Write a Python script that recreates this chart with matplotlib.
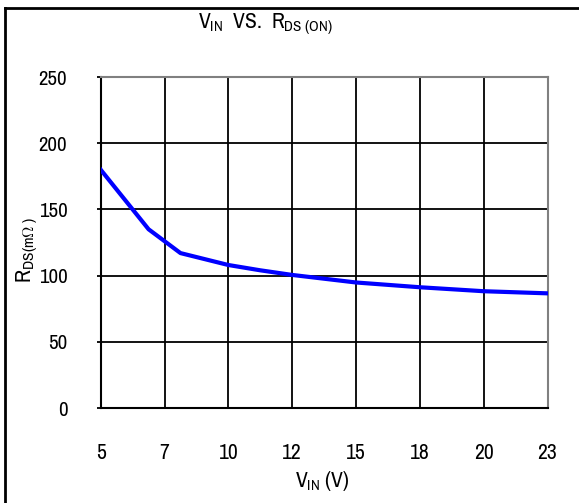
import numpy as np
import matplotlib
matplotlib.use('Agg')
import matplotlib.pyplot as plt
from matplotlib.lines import Line2D

plt.rcParams['font.family'] = ['Archivo Narrow', 'Roboto Condensed', 'DejaVu Sans']
plt.rcParams['mathtext.fontset'] = 'custom'
plt.rcParams['mathtext.rm'] = 'Archivo Narrow'
plt.rcParams['mathtext.it'] = 'Archivo Narrow'

# category axis: ticks are equally spaced
tick_vin = [5, 7, 10, 12, 15, 18, 20, 23]
# curve
vin = [5, 6.5, 7.75, 10, 11, 12, 15, 18, 20, 23]
rds = [180, 135, 117, 108, 104, 100.5, 94.8, 91.2, 88.2, 86.6]

tick_pos = np.arange(len(tick_vin))
xpos = np.interp(vin, tick_vin, tick_pos)

W, H = 579, 503
fig = plt.figure(figsize=(W / 100, H / 100), dpi=100)
ax = fig.add_axes([100.7 / W, 1 - 408 / H, 446.8 / W, 331 / H])

ax.plot(xpos, rds, color='#0000ff', linewidth=3, solid_joinstyle='round', zorder=3)

ax.set_xlim(0, len(tick_vin) - 1)
ax.set_ylim(0, 250)
ax.set_xticks(tick_pos)
ax.set_xticklabels([str(v) for v in tick_vin])
ax.set_yticks(np.arange(0, 251, 50))
ax.grid(True, color='black', linewidth=1.3)
ax.tick_params(axis='x', length=0, pad=25, labelsize=15.5)
ax.tick_params(axis='y', length=3, width=1.3, pad=21, labelsize=15)
for s in ['left', 'bottom']:
    ax.spines[s].set_color('black')
    ax.spines[s].set_linewidth(1.5)
for s in ['top', 'right']:
    ax.spines[s].set_color('#808080')
    ax.spines[s].set_linewidth(1.5)

fig.text(322 / W, 1 - 487 / H, r'V$_{\mathrm{IN}}$ (V)', ha='center', va='baseline', fontsize=15.5)
fig.text(40 / W, 1 - 250 / H, r'R$_{\mathrm{DS(m\Omega\ )}}$', ha='right', va='center',
         rotation=90, fontsize=16)
fig.text(265 / W, 1 - 28 / H, r'V$_{\mathrm{IN}}$  VS.  R$_{\mathrm{DS\ (ON)}}$', ha='center',
         va='baseline', fontsize=15.5)

# outer frame (left and top edges)
fig.add_artist(Line2D([5 / W, 5 / W], [0, 1 - 8 / H], transform=fig.transFigure,
                      color='black', linewidth=2))
fig.add_artist(Line2D([5 / W, 1], [1 - 8 / H, 1 - 8 / H], transform=fig.transFigure,
                      color='black', linewidth=2))

fig.savefig('out.png', dpi=100)
